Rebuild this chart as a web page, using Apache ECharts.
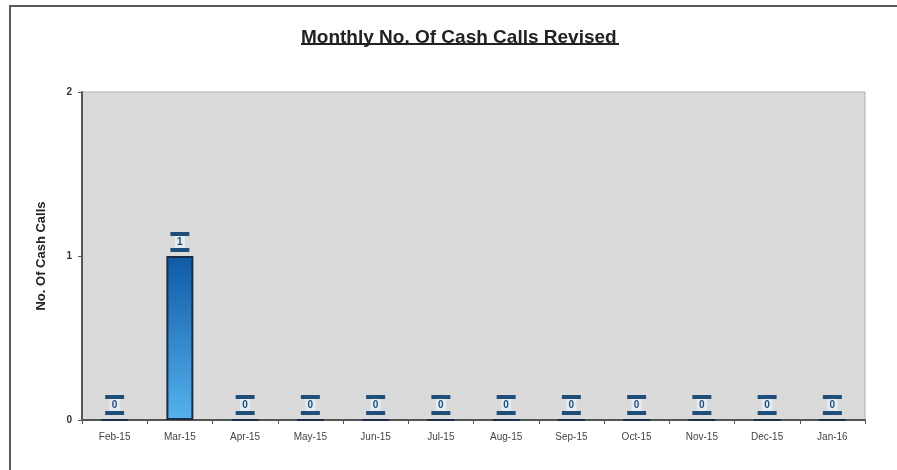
<!DOCTYPE html>
<html>
<head>
<meta charset="utf-8">
<script src="https://cdn.jsdelivr.net/npm/echarts@6/dist/echarts.min.js"></script>
<style>
html, body { margin: 0; padding: 0; background: #ffffff; }
#chart { width: 897px; height: 470px; }
</style>
</head>
<body>
<div id="chart"></div>
<script>
const months = ['Feb-15', 'Mar-15', 'Apr-15', 'May-15', 'Jun-15', 'Jul-15', 'Aug-15', 'Sep-15', 'Oct-15', 'Nov-15', 'Dec-15', 'Jan-16']
const cashCalls = [0, 1, 0, 0, 0, 0, 0, 0, 0, 0, 0, 0]
const yTicks = [0, 1, 2]

const chart = echarts.init(document.getElementById('chart'))

const option = {
    backgroundColor: '#ffffff',
    animation: false,
    title: {
        text: 'Monthly No. Of Cash Calls Revised',
        left: 296,
        top: 23,
        textStyle: {
            fontFamily: 'Liberation Sans',
            fontWeight: 'bold',
            fontSize: 19,
            color: '#222222'
        }
    },
    graphic: [{
        type: 'rect',
        shape: { x: 10, y: 6, width: 900, height: 480 },
        style: { fill: 'none', stroke: '#5a5a5a', lineWidth: 2 },
        silent: true
    }, {
        type: 'rect',
        shape: { x: 301, y: 43, width: 318, height: 2 },
        style: { fill: '#222222' },
        silent: true
    }],
    grid: {
        left: 82,
        right: 32,
        top: 92,
        bottom: 50,
        show: true,
        backgroundColor: '#dadada',
        borderColor: '#b0b0b0',
        borderWidth: 1
    },
    xAxis: {
        type: 'category',
        data: months,
        axisLine: { lineStyle: { color: '#555555', width: 2 } },
        axisTick: { show: true, length: 4, lineStyle: { color: '#555555' } },
        axisLabel: {
            fontFamily: 'Liberation Sans',
            fontSize: 10,
            color: '#444444',
            margin: 12
        }
    },
    yAxis: {
        type: 'value',
        min: yTicks[0],
        max: yTicks[yTicks.length - 1],
        interval: 1,
        name: 'No. Of Cash Calls',
        nameLocation: 'middle',
        nameGap: 34,
        nameRotate: 90,
        nameTextStyle: {
            fontFamily: 'Liberation Sans',
            fontWeight: 'bold',
            fontSize: 13,
            color: '#222222'
        },
        axisLine: { show: true, lineStyle: { color: '#555555', width: 2 } },
        axisTick: { show: true, length: 4, lineStyle: { color: '#555555' } },
        splitLine: { show: false },
        axisLabel: {
            fontFamily: 'Liberation Sans',
            fontWeight: 'bold',
            fontSize: 10,
            color: '#333333',
            margin: 10
        }
    },
    series: [{
        type: 'bar',
        data: cashCalls,
        barWidth: 27,
        itemStyle: {
            color: new echarts.graphic.LinearGradient(0, 0, 0, 1, [
                { offset: 0, color: '#0f5aa6' },
                { offset: 1, color: '#55b2ee' }
            ]),
            borderColor: '#1b2d45',
            borderWidth: 2
        },
        label: {
            show: true,
            position: 'top',
            distance: 4,
            formatter: '{bar|}\n{v|{c}}\n{bar|}',
            rich: {
                bar: { width: 19, height: 4, backgroundColor: '#1f4e79' },
                v: {
                    fontFamily: 'Liberation Sans',
                    fontSize: 10,
                    fontWeight: 'bold',
                    color: '#1f4e79',
                    backgroundColor: '#e4ecf3',
                    width: 10,
                    align: 'center',
                    height: 12,
                    lineHeight: 12
                }
            }
        }
    }]
}

chart.setOption(option)
</script>
</body>
</html>
